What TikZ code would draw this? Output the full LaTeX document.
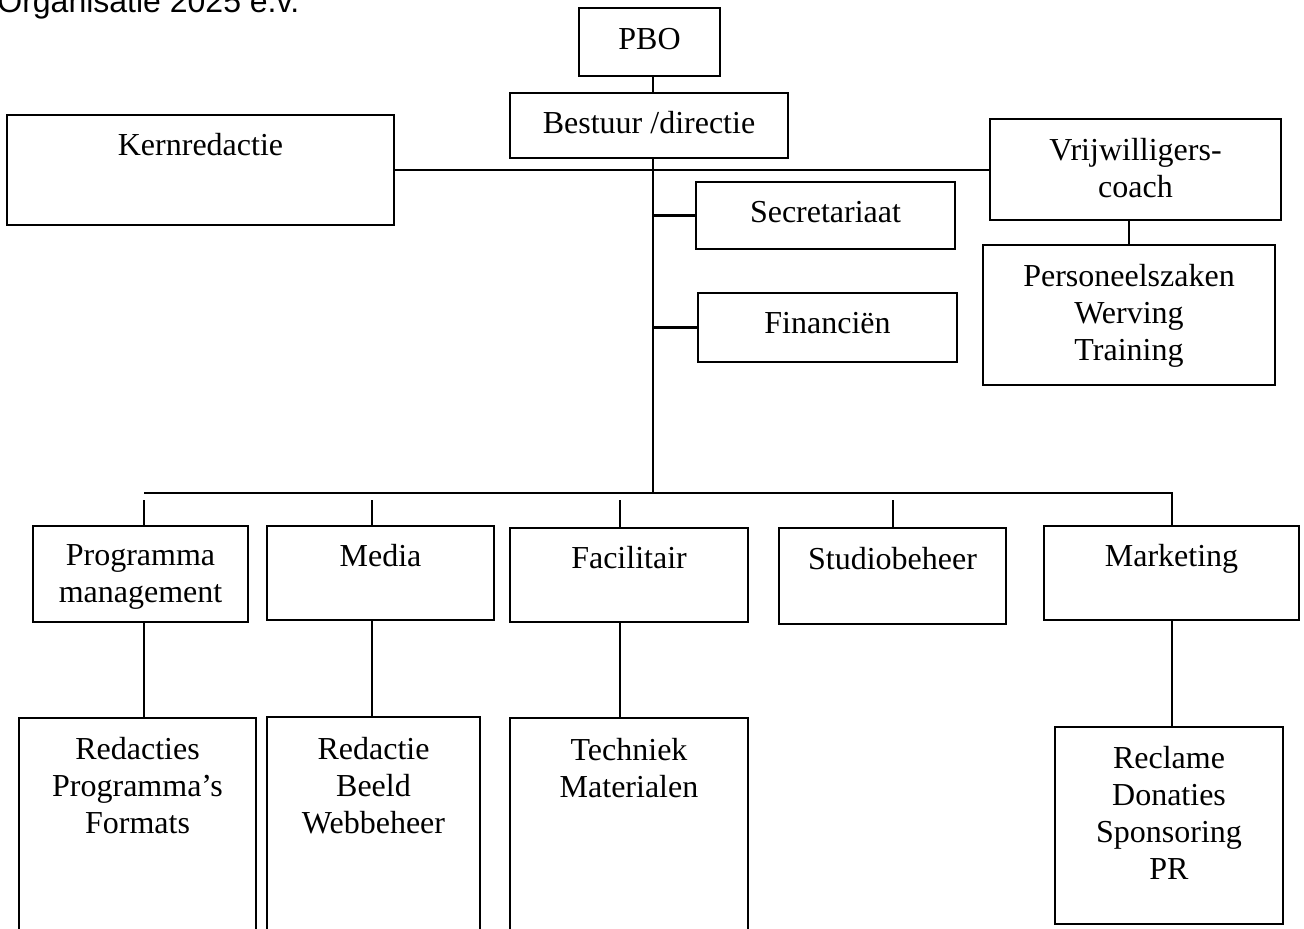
\documentclass[tikz,border=0pt]{standalone}
\usepackage{fontspec}
\setmainfont{Liberation Serif}
\newfontfamily\titlefont{Liberation Sans}
% #1 name, #2 x1, #3 y1, #4 x2, #5 y2, #6 first baseline, #7 text
\newcommand\orgbox[7]{%
  \node[box, minimum width={(#4-#2)*0.5pt}, minimum height={(#5-#3)*0.5pt}] (#1) at ({(#2+#4)/2},{(#3+#5)/2}) {};
  \node[txt] (#1-t) at ({(#2+#4)/2},{#6-22}) {#7};}
\begin{document}
\begin{tikzpicture}[x=0.5pt,y=-0.5pt,
  box/.style={draw, line width=1.2pt, inner sep=0pt},
  txt/.style={font=\fontsize{16}{18.5}\selectfont, align=center, inner sep=0pt, anchor=north},
  conn/.style={line width=1.1pt}]
\useasboundingbox (0,0) rectangle (1304,928);
\clip (0,0) rectangle (1304,928);

\node[anchor=base west, inner sep=0pt, font=\titlefont\fontsize{16}{18}\selectfont] (title) at (-3,12) {Organisatie 2025 e.v.};

\orgbox{pbo}{579}{8}{720}{76}{50}{PBO}
\orgbox{bestuur}{510}{93}{788}{158}{133}{Bestuur /directie}
\orgbox{kern}{7}{115}{394}{225}{155}{Kernredactie}
\orgbox{secr}{696}{182}{955}{249}{223}{Secretariaat}
\orgbox{fin}{698}{293}{957}{362}{334}{Financiën}
\orgbox{vrij}{990}{119}{1281}{220}{160}{Vrijwilligers-\\coach}
\orgbox{pers}{983}{245}{1275}{385}{286}{Personeelszaken\\Werving\\Training}

\orgbox{prog}{33}{526}{248}{622}{566}{Programma\\management}
\orgbox{media}{267}{526}{494}{620}{566}{Media}
\orgbox{facil}{510}{528}{748}{622}{568}{Facilitair}
\orgbox{studio}{779}{528}{1006}{624}{569}{Studiobeheer}
\orgbox{mark}{1044}{526}{1299}{620}{566}{Marketing}

\orgbox{redacties}{19}{718}{256}{960}{759}{Redacties\\Programma’s\\Formats}
\orgbox{redactie}{267}{717}{480}{960}{759}{Redactie\\Beeld\\Webbeheer}
\orgbox{techniek}{510}{718}{748}{960}{760}{Techniek\\Materialen}
\orgbox{reclame}{1055}{727}{1283}{924}{768}{Reclame\\Donaties\\Sponsoring\\PR}

% trunk and buses
\coordinate (tk) at (653,170);
\coordinate (bus) at (653,493);
\coordinate (busL) at (144,493);
\coordinate (busR) at (1172,493);
\coordinate (t1) at (144,500);
\coordinate (t2) at (372,500);
\coordinate (t3) at (620,500);
\coordinate (t4) at (893,500);

\draw[conn] (pbo.south -| tk) -- (bestuur.north -| tk);
\draw[conn] (bestuur.south -| tk) -- (bus);
\draw[conn] (kern.east) -- (vrij.west |- kern.east);
\draw[conn] (secr.west -| tk) -- (secr.west);
\draw[conn] (fin.west -| tk) -- (fin.west);
\draw[conn] (pers.north) -- (pers.north |- vrij.south);

\draw[conn] (busL) -- (busR) -- (busR |- mark.north);
\draw[conn] (t1) -- (t1 |- prog.north);
\draw[conn] (t2) -- (t2 |- media.north);
\draw[conn] (t3) -- (t3 |- facil.north);
\draw[conn] (t4) -- (t4 |- studio.north);

\draw[conn] (t1 |- prog.south) -- (t1 |- redacties.north);
\draw[conn] (t2 |- media.south) -- (t2 |- redactie.north);
\draw[conn] (t3 |- facil.south) -- (t3 |- techniek.north);
\draw[conn] (busR |- mark.south) -- (busR |- reclame.north);
\end{tikzpicture}
\end{document}
